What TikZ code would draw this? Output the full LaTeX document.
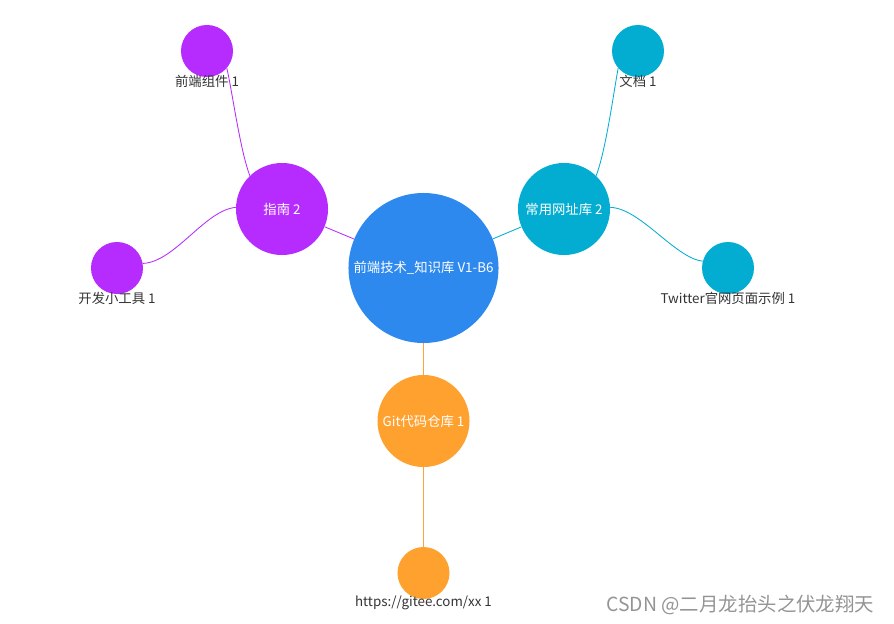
\documentclass[tikz,border=0pt]{standalone}
\usepackage{fontspec}
\setmainfont{Noto Sans CJK SC}
\usepackage{xcolor}
\usetikzlibrary{backgrounds}

\definecolor{hubblue}{HTML}{2E89EE}
\definecolor{grppurple}{HTML}{B62BFE}
\definecolor{grpcyan}{HTML}{02ADD1}
\definecolor{grporange}{HTML}{FFA12F}
\definecolor{edgeorange}{HTML}{FFA33A}
\definecolor{lbltext}{HTML}{333333}

\tikzset{
  bubble/.style={circle,fill=#1,draw=none,inner sep=0pt,text=white},
  hubnode/.style={bubble=hubblue,minimum size=3.75cm},
  midnode/.style={bubble=#1,minimum size=2.3cm},
  leafnode/.style={bubble=#1,minimum size=1.3cm},
  leaflbl/.style={text=lbltext,inner sep=0pt},
  edge/.style={draw=#1,line width=0.6pt}
}

\begin{document}
\begin{tikzpicture}[x=0.025cm,y=-0.025cm,font=\fontsize{9.5}{11}\selectfont]
\useasboundingbox (0,0) rectangle (894,624);

% centre and first ring
\node[hubnode] (hub) at (423.5,268) {前端技术\_知识库 V1-B6};
\node[midnode=grppurple] (pmid) at (282,209) {指南 2};
\node[midnode=grpcyan] (cmid) at (564,209) {常用网址库 2};
\node[midnode=grporange] (omid) at (423.5,421) {Git代码仓库 1};

% leaves
\foreach \name/\x/\y/\col/\lbl in {ptop/207/51/grppurple/前端组件 1,
    pleft/117/268/grppurple/开发小工具 1,
    ctop/638/51/grpcyan/文档 1,
    cright/728/268/grpcyan/Twitter官网页面示例 1,
    obot/423.5/573/grporange/{https://gitee.com/xx 1}} {
  \node[leafnode=\col] (\name) at (\x,\y) {};
  \node[leaflbl] (\name-lbl) at (\x,\y+30) {\lbl};
}

\begin{scope}[on background layer]
  \draw[edge=grppurple] (hub) -- (pmid);
  \draw[edge=grpcyan] (hub) -- (cmid);
  \draw[edge=edgeorange,line width=0.8pt] (hub) -- (omid);
  \draw[edge=edgeorange,line width=0.8pt] (omid) -- (obot);
  \draw[edge=grppurple] (pmid.134) .. controls (240,150) and (232,90) .. (ptop.-41);
  \draw[edge=grppurple] (pmid.178) .. controls (205,210) and (175,262) .. (pleft.10);
  \draw[edge=grpcyan] (cmid.46) .. controls (606,150) and (614,90) .. (ctop.-139);
  \draw[edge=grpcyan] (cmid.2) .. controls (640,208) and (675,258) .. (cright.165);
\end{scope}

\node[anchor=east,text=black!42,font=\fontsize{13.8}{16}\selectfont] (mark) at (879,605) {CSDN @二月龙抬头之伏龙翔天};
\end{tikzpicture}
\end{document}
